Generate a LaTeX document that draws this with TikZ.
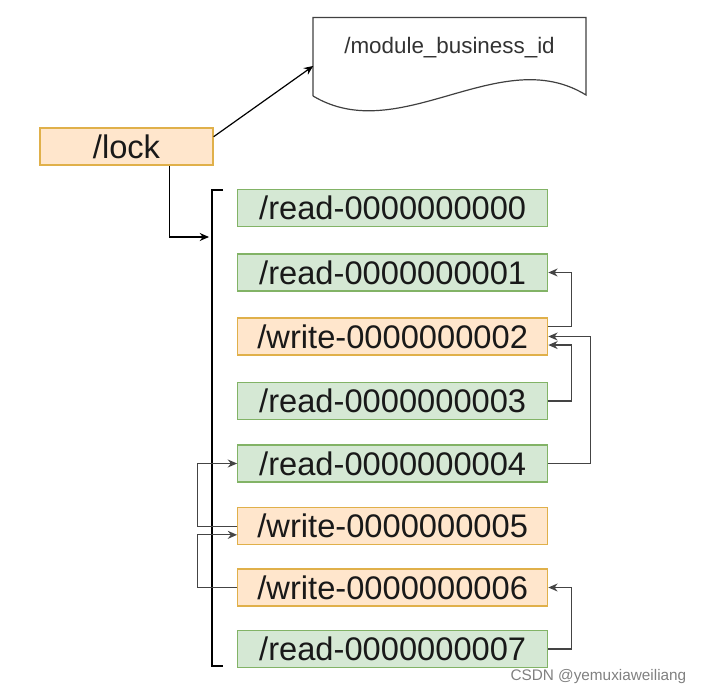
\documentclass[tikz,border=0pt]{standalone}
\usepackage{fontspec}
\setmainfont{Liberation Sans}
\usetikzlibrary{arrows.meta,calc}
\definecolor{gfill}{HTML}{D5E8D4}
\definecolor{gline}{HTML}{82B366}
\definecolor{ofill}{HTML}{FFE6CC}
\definecolor{oline}{HTML}{E0B04A}
\definecolor{cline}{HTML}{444444}
\tikzset{
  base/.style={rectangle, inner sep=0pt, minimum width=232.5pt, minimum height=27.75pt, line width=0.9pt, font=\fontsize{24.5}{26}\selectfont, text=black!90},
  rbox/.style={base, fill=gfill, draw=gline},
  wbox/.style={base, fill=ofill, draw=oline},
  conn/.style={draw=cline, line width=0.95pt, -{Stealth[length=7pt,width=6pt]}},
  mainconn/.style={draw=black, line width=0.9pt, -{Stealth[length=7pt,width=6pt]}},
}
\begin{document}
\begin{tikzpicture}[x=0.75pt,y=-0.75pt]
\useasboundingbox (0,0) rectangle (705,695);
% document shape
\node[rectangle, minimum width=204pt, minimum height=59pt, inner sep=0pt] (doc) at (449.5,56.5) {};
\draw[black!75, line width=0.9pt] (313,96) -- (313,17.5) -- (586,17.5) -- (586,95)
  .. controls (500,42) and (400,148) .. (313,96);
\node[font=\fontsize{16.8}{18}\selectfont, text=black!80] (doctext) at (449.5,48) {/module\_business\_id};
% lock
\node[base, fill=ofill, draw=oline, minimum width=129.75pt] (lock) at (126.5,146.5) {/lock};
% boxes
\node[rbox] (r0) at (392.7,207.7) {/read-0000000000};
\node[rbox] (r1) at (392.7,272.5) {/read-0000000001};
\node[wbox] (w2) at (392.7,336.5) {/write-0000000002};
\node[rbox] (r3) at (392.7,401) {/read-0000000003};
\node[rbox] (r4) at (392.7,463.5) {/read-0000000004};
\node[wbox] (w5) at (392.7,526.3) {/write-0000000005};
\node[wbox] (w6) at (392.7,587.5) {/write-0000000006};
\node[rbox] (r7) at (392.7,649) {/read-0000000007};
% bracket
\coordinate (br) at (211.7,237);
\draw[black, line width=1.6pt] (223,190) -- (211.7,190) -- (211.7,666) -- (223,666);
% lock connectors
\draw[mainconn] ([yshift=-7pt]lock.north east) -- ([yshift=-7.1pt]doc.west);
\draw[mainconn, shorten >=2pt] ([xshift=32pt]lock.south) |- (br);
% right connectors
\draw[conn] ([yshift=7.5pt]w2.east) -- ++(23,0) |- (r1.east);
\draw[conn] (r3.east) -- ++(23,0) |- ([yshift=-6.4pt]w2.east);
\draw[conn] (r4.east) -- ++(42,0) |- (w2.east);
\draw[conn] (r7.east) -- ++(23,0) |- (w6.east);
% left connectors
\draw[conn] (w5.west) -- ++(-39.5,0) |- (r4.west);
\draw[conn] (w6.west) -- ++(-39.5,0) |- ([yshift=-6.4pt]w5.west);
% watermark
\node[anchor=east, font=\fontsize{11.5}{12}\selectfont, text=black!50] (wm) at (691,677) {CSDN @yemuxiaweiliang};
\end{tikzpicture}
\end{document}
